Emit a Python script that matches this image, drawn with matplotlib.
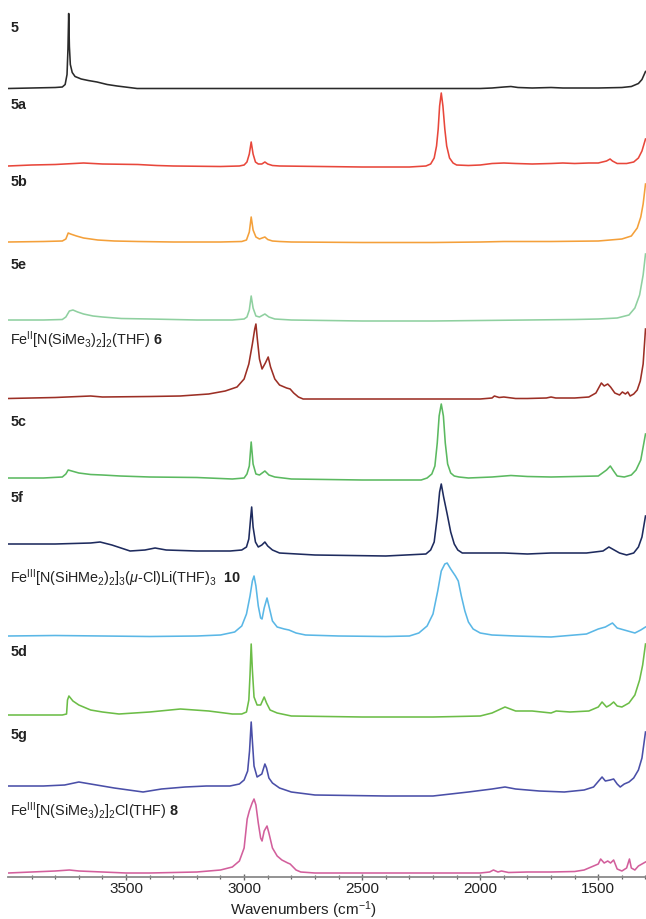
import matplotlib
matplotlib.use("Agg")
import matplotlib.pyplot as plt

plt.rcParams['font.family'] = ['Liberation Sans', 'DejaVu Sans']
plt.rcParams['mathtext.fontset'] = 'custom'
plt.rcParams['mathtext.rm'] = 'Liberation Sans'
plt.rcParams['mathtext.it'] = 'Liberation Sans:italic'
plt.rcParams['mathtext.bf'] = 'Liberation Sans:bold'

# ---------------- data: (wavenumber, intensity above own baseline) ----------------
wn_5 = [4000, 3900, 3800, 3770, 3758, 3750, 3746, 3743, 3740, 3736, 3728, 3716, 3690, 3660, 3623, 3580,
        3538, 3453, 3000, 2500, 2000, 1950, 1900, 1870, 1840, 1780, 1700, 1650, 1500, 1400, 1360, 1330,
        1315, 1300]
ab_5 = [0, 0.5, 1, 1.5, 4, 14, 40, 75, 42, 24, 16, 12, 9.5, 8, 6.5, 4,
        2.5, 0, 0, 0, 0, 0.5, 1.5, 2, 1, 0.5, 1, 0.5, 0.5, 1, 2, 5,
        9, 17]

wn_5a = [4000, 3900, 3800, 3680, 3600, 3450, 3370, 3300, 3100, 3020, 3000, 2988, 2978, 2970, 2962, 2952,
         2940, 2925, 2912, 2900, 2880, 2850, 2500, 2300, 2230, 2210, 2195, 2185, 2178, 2172, 2165, 2158,
         2150, 2142, 2130, 2115, 2100, 2050, 2000, 1950, 1900, 1850, 1780, 1700, 1650, 1600, 1540, 1500,
         1465, 1450, 1440, 1420, 1380, 1350, 1330, 1315, 1300]
ab_5a = [0, 1, 1.5, 3, 2, 1.5, 0.5, 0, -0.5, 0, 1, 4, 12, 24, 12, 4,
         2, 2, 4, 2, 0.5, 0, -1, -1, 0, 2, 8, 20, 37, 60, 73, 60,
         37, 20, 8, 3, 1, 0.5, 1, 2.5, 3, 2.5, 2, 2.5, 3, 2.5, 3, 3,
         5, 7, 5, 2.5, 2.5, 4, 8, 15, 27]

wn_5b = [4000, 3850, 3770, 3755, 3745, 3735, 3710, 3680, 3620, 3550, 3450, 3300, 3100, 3010, 2990, 2978,
         2970, 2962, 2950, 2935, 2912, 2900, 2880, 2850, 2800, 2500, 2200, 2000, 1900, 1700, 1500, 1450,
         1400, 1360, 1335, 1320, 1310, 1300]
ab_5b = [0, 0.5, 1, 3, 9, 8, 6, 4, 2, 1, 0.5, 0, 0, 0.5, 2, 10,
         25, 12, 5, 3, 5, 2.5, 1, 0.5, 0, -0.5, -0.5, 0, 0.5, 0.5, 1, 2,
         3, 6, 14, 25, 38, 58]

wn_5e = [4000, 3850, 3770, 3755, 3740, 3725, 3705, 3680, 3640, 3600, 3520, 3400, 3200, 3050, 3000, 2988,
         2978, 2970, 2962, 2950, 2935, 2912, 2895, 2870, 2800, 2500, 2200, 2000, 1800, 1600, 1500, 1420,
         1370, 1345, 1325, 1310, 1300]
ab_5e = [0, 0, 0.5, 3, 9, 10, 8, 6, 4, 3, 1.5, 1, 0, 0, 1, 3,
         10, 24, 12, 4, 3, 6, 3, 1, 0, -1, -1, -0.5, 0, 0.5, 1, 2,
         5, 12, 25, 45, 66]

wn_6 = [4000, 3800, 3650, 3600, 3400, 3271, 3150, 3080, 3030, 3000, 2980, 2965, 2955, 2950, 2944, 2935,
        2924, 2910, 2898, 2888, 2870, 2850, 2820, 2805, 2790, 2770, 2750, 2500, 2200, 2000, 1950, 1940,
        1920, 1900, 1850, 1800, 1720, 1700, 1680, 1600, 1540, 1510, 1487, 1475, 1460, 1448, 1430, 1410,
        1398, 1385, 1375, 1365, 1350, 1335, 1322, 1310, 1300]
ab_6 = [0.5, 1.5, 3, 2, 2.5, 3, 5, 8, 12, 20, 35, 55, 70, 75, 60, 40,
        30, 36, 42, 32, 20, 14, 11, 10, 6, 2, 0, 0, 0, 0, 1, 3,
        1.5, 2, 0.5, 0.5, 1, 2, 1, 1, 2, 6, 16, 13, 15, 12, 6, 4,
        7, 5, 7, 3, 5, 9, 18, 35, 70]

wn_5c = [4000, 3850, 3770, 3755, 3745, 3730, 3700, 3650, 3600, 3525, 3400, 3200, 3050, 3000, 2988, 2978,
         2970, 2962, 2950, 2935, 2912, 2895, 2870, 2800, 2500, 2250, 2225, 2205, 2192, 2182, 2174, 2165,
         2156, 2148, 2138, 2125, 2110, 2090, 2050, 1950, 1870, 1800, 1700, 1600, 1500, 1465, 1449, 1435,
         1420, 1390, 1360, 1340, 1320, 1300]
ab_5c = [0, 0, 1, 4, 8, 7, 5, 3.5, 3, 2, 1, 0.5, -1, 0, 4, 12,
         36, 14, 4, 3, 7, 3, 1, -1, -2, -2, 0, 4, 12, 35, 62, 74,
         62, 35, 14, 5, 2, 1, 0, 1, 2.5, 1.5, 1, 1.5, 2, 8, 12, 7,
         2, 1, 3, 8, 18, 44]

wn_5f = [4000, 3800, 3650, 3610, 3560, 3483, 3420, 3377, 3330, 3200, 3059, 3010, 2990, 2980, 2972, 2968,
         2962, 2952, 2940, 2925, 2912, 2900, 2880, 2850, 2700, 2400, 2230, 2210, 2195, 2182, 2172, 2165,
         2155, 2140, 2125, 2110, 2095, 2076, 2000, 1900, 1800, 1700, 1550, 1480, 1455, 1440, 1410, 1380,
         1350, 1330, 1315, 1300]
ab_5f = [3, 3, 4, 5, 2, -4, -3, -1, -3, -4, -4, -3, 0, 8, 30, 40,
         20, 5, 0, 2, 5, 1, -3, -6, -8, -9, -7, -3, 5, 30, 55, 63,
         50, 33, 15, 3, -3, -6, -6, -6, -7, -6, -6, -4, 0, -2, -6, -8,
         -6, 0, 10, 31]

wn_10 = [4000, 3800, 3600, 3400, 3200, 3100, 3040, 3010, 2990, 2975, 2965, 2958, 2950, 2940, 2930, 2924,
         2915, 2903, 2895, 2880, 2860, 2830, 2810, 2780, 2740, 2600, 2400, 2300, 2260, 2225, 2200, 2180,
         2165, 2150, 2140, 2125, 2105, 2093, 2080, 2065, 2050, 2030, 2000, 1950, 1850, 1700, 1550, 1500,
         1470, 1440, 1420, 1390, 1345, 1320, 1300]
ab_10 = [0, 0.5, 0, -0.5, 0, 1, 4, 10, 22, 40, 55, 60, 50, 30, 18, 17,
         28, 38, 30, 15, 9, 7, 6, 3, 1, 0, -0.5, 0, 3, 10, 22, 45,
         65, 72, 73, 67, 60, 55, 40, 25, 14, 7, 3, 1, 0, -1, 2, 7,
         9, 13, 8, 6, 3, 6, 9]

wn_5d = [4000, 3850, 3770, 3752, 3748, 3742, 3725, 3700, 3650, 3600, 3530, 3400, 3270, 3150, 3050, 3010,
         2990, 2980, 2975, 2970, 2965, 2958, 2945, 2930, 2915, 2905, 2890, 2860, 2800, 2500, 2200, 2000,
         1950, 1895, 1850, 1780, 1700, 1678, 1620, 1540, 1500, 1484, 1465, 1450, 1435, 1420, 1400, 1370,
         1345, 1325, 1312, 1300]
ab_5d = [0, 0, 0, 1, 15, 19, 14, 10, 5, 3, 1, 3, 6, 4, 1, 1,
         3, 15, 40, 71, 45, 18, 10, 10, 18, 12, 5, 2, -1, -2, -2, -1,
         2, 8, 4, 4, 2, 4, 3, 4, 8, 13, 8, 10, 13, 9, 8, 12,
         20, 35, 50, 71]

wn_5g = [4000, 3850, 3760, 3700, 3650, 3550, 3428, 3350, 3250, 3160, 3060, 3020, 3000, 2985, 2977, 2970,
         2965, 2958, 2945, 2925, 2912, 2905, 2895, 2880, 2850, 2800, 2700, 2400, 2200, 2050, 1950, 1895,
         1850, 1750, 1644, 1560, 1520, 1484, 1470, 1450, 1435, 1420, 1407, 1390, 1370, 1350, 1330, 1315,
         1300]
ab_5g = [0, 0, 1, 4, 2, -2, -6, -3, -1, 0, 0, 2, 6, 15, 35, 64,
         45, 20, 9, 12, 22, 18, 8, 3, -2, -6, -9, -10, -10, -6, -3, -1,
         -3, -5, -6, -4, -1, 9, 5, 6, 7, 2, -1, 2, 4, 8, 16, 28,
         54]

wn_8 = [4000, 3900, 3800, 3740, 3700, 3600, 3500, 3400, 3300, 3200, 3150, 3100, 3050, 3020, 3000, 2987,
        2978, 2966, 2958, 2950, 2940, 2930, 2924, 2915, 2903, 2895, 2880, 2860, 2840, 2815, 2805, 2780,
        2760, 2700, 2500, 2000, 1960, 1944, 1925, 1910, 1880, 1800, 1700, 1600, 1560, 1530, 1500, 1490,
        1475, 1460, 1448, 1435, 1420, 1400, 1380, 1368, 1360, 1345, 1330, 1315, 1300]
ab_8 = [0, 1, 2, 3, 2, 1, 0, 0, 0.5, 1, 2, 3, 6, 12, 25, 54,
        62, 70, 74, 68, 50, 35, 32, 42, 47, 40, 25, 17, 13, 10, 9, 3,
        1, 0, 0, 0, 1, 3, 1, 2, 0.5, 1, 1, 1.5, 3, 6, 9, 14,
        10, 12, 10, 13, 4, 2, 5, 14, 5, 3, 7, 9, 11]

spectra_wn = [wn_5, wn_5a, wn_5b, wn_5e, wn_6, wn_5c, wn_5f, wn_10, wn_5d, wn_5g, wn_8]
spectra_ab = [ab_5, ab_5a, ab_5b, ab_5e, ab_6, ab_5c, ab_5f, ab_10, ab_5d, ab_5g, ab_8]

labels = [r"$\mathbf{5}$", r"$\mathbf{5a}$", r"$\mathbf{5b}$", r"$\mathbf{5e}$",
          r"Fe$^{\mathrm{II}}$[N(SiMe$_3$)$_2$]$_2$(THF) $\mathbf{6}$",
          r"$\mathbf{5c}$", r"$\mathbf{5f}$",
          r"Fe$^{\mathrm{III}}$[N(SiHMe$_2$)$_2$]$_3$($\mu$-Cl)Li(THF)$_3$  $\mathbf{10}$",
          r"$\mathbf{5d}$", r"$\mathbf{5g}$",
          r"Fe$^{\mathrm{III}}$[N(SiMe$_3$)$_2$]$_2$Cl(THF) $\mathbf{8}$"]

xticks = [3500, 3000, 2500, 2000, 1500]

# ---------------- style / layout ----------------
colors = ['#2a2a2a', '#e8473b', '#f4a03a', '#8fd0a0', '#9c2f25', '#5bb960',
          '#1e2b5e', '#5ab7e6', '#6cbd47', '#4a4fa8', '#d25f9c']
W, H = 646, 920
baseline_px = [89.5, 167, 243, 321, 400, 479, 548, 637, 716, 787, 874]
label_px = [28, 105, 182, 265, 340, 422, 497, 578, 652, 736, 811]
AX_BOTTOM = 878

fig = plt.figure(figsize=(W / 100, H / 100), dpi=100)
fig.patch.set_facecolor('white')
ax = fig.add_axes([8 / W, (H - AX_BOTTOM) / H, 637.5 / W, AX_BOTTOM / H])
ax.set_xlim(4000, 1300)
ax.set_ylim(0, AX_BOTTOM)

for wn, ab, c, b in zip(spectra_wn, spectra_ab, colors, baseline_px):
    off = AX_BOTTOM - b
    ax.plot(wn, [v + off for v in ab], color=c, lw=1.15, solid_joinstyle='round')

for lab, y in zip(labels, label_px):
    fig.text(10 / W, 1 - y / H, lab, fontsize=10.4, va='center', ha='left', color='#222222')

for s in ['top', 'right', 'left']:
    ax.spines[s].set_visible(False)
ax.spines['bottom'].set_color('#8a8a8a')
ax.spines['bottom'].set_linewidth(1.3)
ax.set_yticks([])
ax.set_xticks(xticks)
ax.set_xticks(range(3900, 1299, -100), minor=True)
ax.tick_params(axis='x', which='major', direction='inout', length=5, width=1, color='#666666',
               labelsize=11, labelcolor='#222222', pad=0.5)
ax.tick_params(axis='x', which='minor', direction='inout', length=3.5, width=0.9, color='#666666')
xl = ax.set_xlabel(r"Wavenumbers (cm$^{-1}$)", fontsize=11, color='#222222', va='center')
ax.xaxis.set_label_coords((303 - 8) / 637.5, -(910 - AX_BOTTOM) / AX_BOTTOM)

fig.savefig("out.png", dpi=100, facecolor='white')
